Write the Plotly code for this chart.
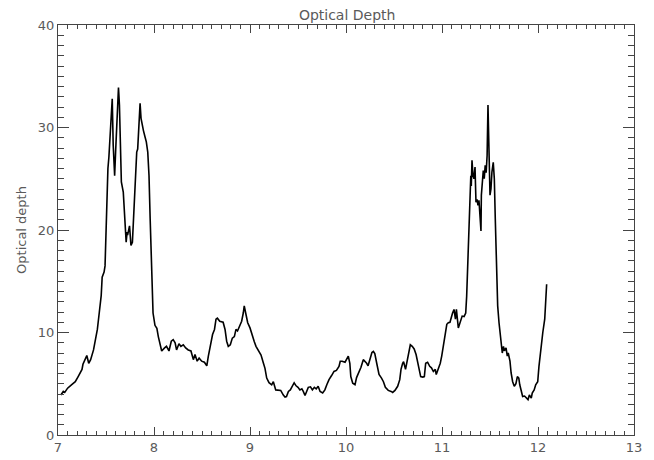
import plotly.graph_objects as go

# Wavelength-like x positions and optical depth values
x_vals = [
    7.03, 7.055, 7.07, 7.10, 7.14, 7.18, 7.21, 7.25, 7.26, 7.28, 7.30, 7.32, 7.34, 7.37, 7.39,
    7.41, 7.43, 7.45, 7.46, 7.48, 7.49, 7.50, 7.51, 7.52, 7.53, 7.545, 7.56, 7.565, 7.575, 7.585,
    7.59, 7.60, 7.615, 7.63, 7.64, 7.65, 7.66, 7.68, 7.69, 7.705, 7.71, 7.72, 7.725, 7.745, 7.76,
    7.775, 7.79, 7.80, 7.82, 7.83, 7.845, 7.855, 7.865, 7.88, 7.89, 7.906, 7.92, 7.935, 7.948, 7.96,
    7.976, 7.99, 8.01, 8.03, 8.045, 8.065, 8.08, 8.11, 8.13, 8.156, 8.18, 8.20, 8.22, 8.235,
    8.26, 8.28, 8.305, 8.33, 8.357, 8.385, 8.41, 8.427, 8.45, 8.47, 8.497, 8.525, 8.55, 8.566,
    8.587, 8.61, 8.63, 8.646, 8.66, 8.685, 8.72, 8.74, 8.757, 8.774, 8.795, 8.816, 8.837, 8.854,
    8.87, 8.893, 8.913, 8.93, 8.94, 8.955, 8.976, 9.0, 9.024, 9.045, 9.0625, 9.087, 9.115, 9.14,
    9.156, 9.174, 9.198, 9.226, 9.243, 9.268, 9.295, 9.32, 9.347, 9.365, 9.38, 9.40, 9.42, 9.44,
    9.46, 9.48, 9.50, 9.52, 9.54, 9.555, 9.573, 9.59, 9.607, 9.63, 9.65, 9.67, 9.69, 9.71, 9.73,
    9.757, 9.78, 9.80, 9.823, 9.85, 9.875, 9.90, 9.927, 9.94, 9.96, 9.99, 10.007, 10.024, 10.04,
    10.05, 10.07, 10.094, 10.11, 10.135, 10.156, 10.18, 10.196, 10.215, 10.23, 10.253, 10.27,
    10.285, 10.30, 10.32, 10.344, 10.37, 10.39, 10.41, 10.44, 10.47, 10.486, 10.51, 10.538, 10.56,
    10.573, 10.59, 10.60, 10.62, 10.643, 10.66, 10.67, 10.69, 10.71, 10.73, 10.747, 10.764,
    10.778, 10.80, 10.816, 10.83, 10.85, 10.872, 10.89, 10.91, 10.93, 10.94, 10.96, 10.982,
    10.997, 11.014, 11.03, 11.05, 11.066, 11.083, 11.11, 11.125, 11.14, 11.15, 11.17, 11.19,
    11.21, 11.23, 11.247, 11.257, 11.268, 11.278, 11.289, 11.30, 11.305, 11.3125, 11.323, 11.333,
    11.344, 11.354, 11.365, 11.375, 11.385, 11.396, 11.406, 11.41, 11.42, 11.43, 11.44, 11.45,
    11.46, 11.47, 11.479, 11.486, 11.49, 11.50, 11.51, 11.52, 11.534, 11.545, 11.555, 11.57,
    11.58, 11.594, 11.604, 11.615, 11.628, 11.64, 11.65, 11.667, 11.68, 11.69, 11.708, 11.72,
    11.736, 11.753, 11.77, 11.785, 11.80, 11.81, 11.826, 11.84, 11.86, 11.882, 11.896, 11.91,
    11.92, 11.93, 11.94, 11.96, 11.976, 11.997, 12.01, 12.024, 12.04, 12.05, 12.07, 12.08, 12.09,
]
depth_vals = [
    3.9, 4.25, 4.15, 4.57, 4.9, 5.2, 5.7, 6.4, 6.9, 7.35, 7.75, 7.0, 7.35, 8.3, 9.15,
    10.3, 11.95, 13.6, 15.4, 15.9, 16.5, 20.1, 24.0, 26.0, 27.1, 29.2, 31.5, 32.8, 28.3, 26.3,
    25.3, 27.6, 31.5, 33.9, 32.2, 28.3, 24.7, 23.7, 21.7, 19.8, 18.8, 19.8, 19.5, 20.4, 18.5,
    18.8, 21.7, 25.0, 27.6, 27.9, 30.2, 32.35, 30.9, 29.9, 29.7, 29.1, 28.6, 27.6, 25.3, 21.1,
    15.2, 11.9, 10.7, 10.4, 9.6, 8.65, 8.2, 8.5, 8.65, 8.2, 9.15, 9.3, 9.0, 8.3,
    8.9, 8.65, 8.8, 8.5, 8.3, 8.2, 7.35, 7.85, 7.2, 7.5, 7.2, 7.1, 6.75, 7.7,
    8.8, 9.8, 10.3, 11.3, 11.4, 11.1, 11.0, 10.3, 9.15, 8.65, 8.8, 9.45, 9.6, 10.3,
    10.15, 10.6, 11.1, 11.9, 12.6, 11.9, 10.95, 10.45, 9.6, 9.1, 8.65, 8.3, 7.8, 7.0,
    6.5, 5.55, 5.1, 4.9, 5.2, 4.4, 4.35, 4.35, 3.9, 3.7, 3.75, 4.25, 4.4, 4.8,
    5.1, 4.8, 4.65, 4.4, 4.5, 4.25, 3.85, 4.25, 4.65, 4.7, 4.4, 4.65, 4.5, 4.75, 4.25,
    4.1, 4.4, 4.9, 5.4, 5.8, 6.2, 6.3, 6.7, 7.2, 7.2, 7.1, 7.35, 7.7, 7.0,
    5.7, 5.05, 4.9, 5.6, 6.1, 6.6, 7.35, 7.2, 7.0, 6.75, 7.4, 8.05,
    8.15, 7.95, 7.0, 5.9, 5.55, 5.2, 4.65, 4.35, 4.25, 4.15, 4.35, 4.75, 5.4,
    6.4, 7.0, 7.15, 6.4, 7.5, 8.3, 8.8, 8.65, 8.4, 7.85, 7.0, 6.4,
    5.7, 5.65, 5.7, 7.0, 7.1, 6.7, 6.55, 6.2, 6.4, 5.9, 6.4, 7.0,
    7.7, 8.65, 9.8, 10.8, 10.95, 11.0, 11.9, 12.25, 11.3, 12.25, 10.45, 10.95,
    11.6, 11.55, 11.9, 13.55, 16.8, 20.75, 24.0, 25.3, 24.3, 26.8, 25.3, 25.0,
    26.15, 22.7, 23.0, 22.4, 22.9, 21.7, 19.9, 23.4, 25.3, 25.8, 25.0, 26.3,
    25.6, 27.3, 32.2, 29.2, 26.6, 23.4, 24.0, 25.65, 26.6, 25.0, 21.1, 15.85,
    12.6, 10.95, 10.0, 8.65, 8.0, 8.65, 8.2, 8.5, 7.7, 8.0, 7.2, 6.05,
    5.2, 4.75, 5.0, 5.7, 5.55, 4.9, 4.1, 3.75, 3.8, 3.6, 3.45, 3.9,
    3.75, 3.6, 4.1, 4.4, 4.9, 5.2, 6.7, 8.0, 9.0, 10.0, 11.3, 12.6, 14.7,
]

title_text = "Optical Depth"
y_title = "Optical depth"
x_ticks = [7, 8, 9, 10, 11, 12, 13]
y_ticks = [0, 10, 20, 30, 40]

font_color = "#5a5a5a"
font_family = "DejaVu Sans"

fig = go.Figure()
fig.add_trace(go.Scatter(
    x=x_vals, y=depth_vals, mode="lines",
    line=dict(color="black", width=1.6),
    showlegend=False, hoverinfo="skip",
))

axis_common = dict(
    showgrid=False, zeroline=False, showline=True, linecolor="#444444", linewidth=1,
    mirror="allticks", ticks="inside", tickcolor="#444444",
    tickfont=dict(family=font_family, size=13, color=font_color),
)

# page body has an 8px default margin, so the figure is sized to fill the rest
fig.update_layout(
    width=646, height=452,
    margin=dict(l=50, r=20, t=17, b=25, autoexpand=False),
    paper_bgcolor="white", plot_bgcolor="white",
    title=dict(text=title_text, x=0.525, xanchor="center", y=1.0, yanchor="top",
               pad=dict(t=2, b=0, l=0, r=0),
               font=dict(family=font_family, size=14, color=font_color)),
    xaxis=dict(range=[7, 13], tickvals=x_ticks, ticktext=[str(v) for v in x_ticks],
               ticklen=8, automargin=False,
               minor=dict(dtick=0.1, tick0=7, ticklen=4, ticks="inside", tickcolor="#444444"),
               **axis_common),
    yaxis=dict(range=[0, 40], tickvals=y_ticks, ticktext=[str(v) for v in y_ticks],
               ticklen=11, automargin=False,
               minor=dict(dtick=1, tick0=0, ticklen=6, ticks="inside", tickcolor="#444444"),
               title=dict(text=y_title, standoff=8,
                          font=dict(family=font_family, size=13, color=font_color)),
               **axis_common),
)

fig.write_html("out.html")
